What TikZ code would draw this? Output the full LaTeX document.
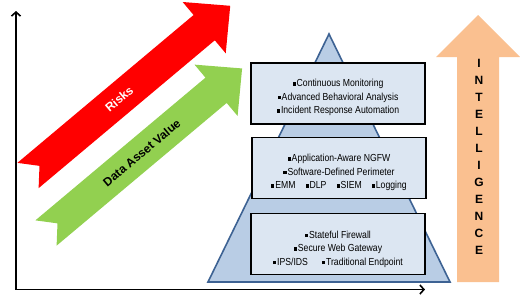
\documentclass[tikz,border=0pt]{standalone}
\usepackage{fontspec}
\setmainfont{Liberation Sans}
\newfontfamily\narrowsf[FakeStretch=0.85]{Liberation Sans}
\usetikzlibrary{arrows.meta}
\definecolor{riskred}{HTML}{FF0000}
\definecolor{assetgreen}{HTML}{92D050}
\definecolor{intelorange}{HTML}{FAC090}
\definecolor{pyrfill}{HTML}{B9CDE5}
\definecolor{pyredge}{HTML}{3D6293}
\definecolor{layerfill}{HTML}{DCE6F2}
\newcommand{\bul}{\rule[1.1pt]{3.1pt}{3.3pt}\hspace{1pt}}

\begin{document}
\begin{tikzpicture}[x=1pt,y=-1pt,>={Straight Barb[length=4pt,width=9pt]},
  layer/.style={draw=black,line width=1.8pt,fill=layerfill,minimum width=174pt,minimum height=61pt},
  layertext/.style={font=\narrowsf\fontsize{10.2}{13.5}\selectfont,align=center,inner sep=0pt},
  arrowtext/.style={font=\bfseries\fontsize{12}{14}\selectfont,transform shape}]
\useasboundingbox (0,0) rectangle (520,303);
% axes
\coordinate (ytop) at (16,11);
\coordinate (xend) at (425,289.5);
\draw[<->,line width=1.6pt] (ytop) |- (xend);
% rising arrows
\begin{scope}[shift={(28,175.5)},rotate=40]
\fill[riskred] (0,-16.5) -- (230,-16.5) -- (230,-33.5) -- (264,0) -- (230,33.5) -- (230,16.5) -- (0,16.5) -- (15,0) -- cycle;
\node[arrowtext,text=white] (risks) at (119,0) {Risks};
\end{scope}
\begin{scope}[shift={(46,233)},rotate=40]
\fill[assetgreen] (0,-16.5) -- (222,-16.5) -- (222,-33.5) -- (256,0) -- (222,33.5) -- (222,16.5) -- (0,16.5) -- (15,0) -- cycle;
\node[arrowtext] (asset) at (125,0) {Data Asset Value};
\end{scope}
% intelligence arrow
\fill[intelorange] (457,282) -- (457,57) -- (436,57) -- (478,15) -- (520,57) -- (499,57) -- (499,282) -- cycle;
\node[font=\bfseries\fontsize{12}{17}\selectfont,align=center,inner sep=0pt] (intel) at (479,156.5)
  {I\\N\\T\\E\\L\\L\\I\\G\\E\\N\\C\\E};
% pyramid
\coordinate (apex) at (329,34);
\coordinate (baseL) at (208,282);
\coordinate (baseR) at (450,282);
\draw[pyredge,line width=1.6pt,fill=pyrfill] (apex) -- (baseR) -- (baseL) -- cycle;
% layers
\node[layer] (top) at (338,93.5) {};
\node[layertext] (toptext) at ([yshift=-4pt]top.center)
  {\bul Continuous Monitoring\\\bul Advanced Behavioral Analysis\\\bul Incident Response Automation};
\node[layer] (mid) at (339,168) {};
\node[layertext] (midtext) at ([yshift=-4.5pt]mid.center)
  {\bul Application-Aware NGFW\\\bul Software-Defined Perimeter\\
   \bul EMM\hspace{10pt}\bul DLP\hspace{10pt}\bul SIEM\hspace{10pt}\bul Logging};
\node[layer] (base) at (338,244) {};
\node[layertext] (basetext) at ([yshift=-5pt]base.center)
  {\bul Stateful Firewall\\\bul Secure Web Gateway\\\bul IPS/IDS\hspace{14pt}\bul Traditional Endpoint};
\end{tikzpicture}
\end{document}
